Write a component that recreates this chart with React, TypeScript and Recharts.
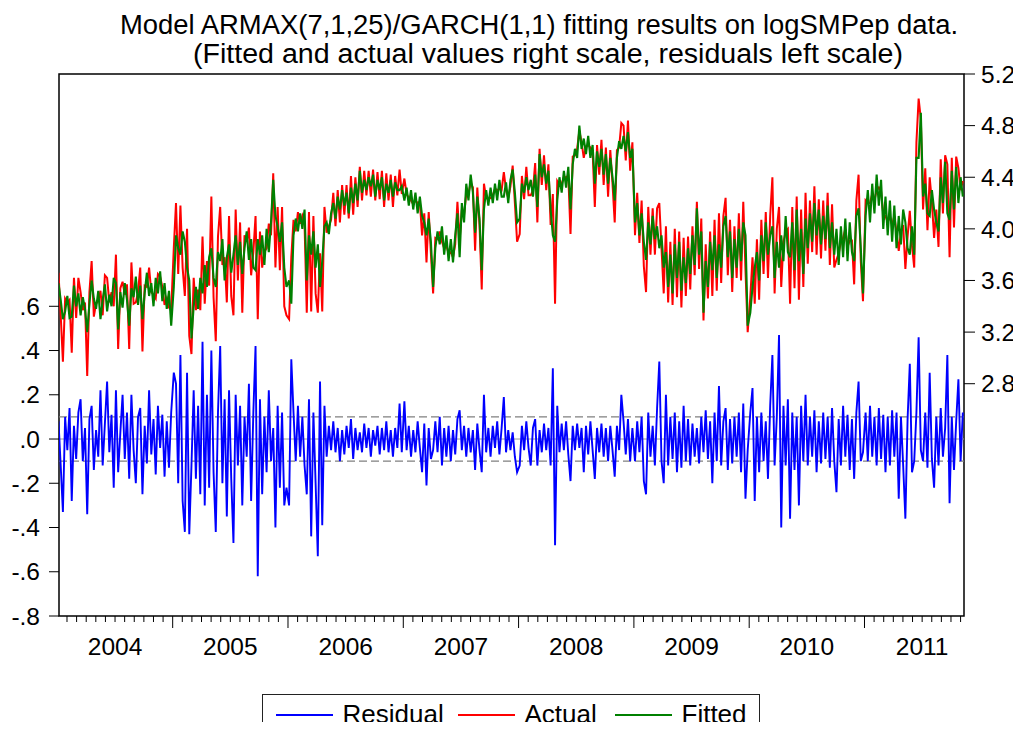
import React from "react";
import {
  ComposedChart,
  Line,
  XAxis,
  YAxis,
  ReferenceLine,
  ReferenceArea,
  Legend,
} from "recharts";

// weekly readings, one small array per calendar year
const YEARS = [2004, 2005, 2006, 2007, 2008, 2009, 2010, 2011];

const fitted2004 = [3.58,3.45,3.30,3.36,3.48,3.31,3.32,3.56,3.40,3.50,3.33,3.47,3.38,3.20,3.42,3.60,3.46,3.38,3.52,3.30,3.45,3.57,3.36,3.49,3.40,3.62,3.58,3.22,3.51,3.39,3.58,3.45,3.25,3.54,3.47,3.63,3.41,3.56,3.30,3.50,3.66,3.48,3.58,3.40,3.62,3.50,3.67,3.44,3.58,3.38,3.52,3.25];
const actual2004 = [3.66,3.33,2.97,3.46,3.43,3.45,3.04,3.62,3.31,3.62,3.51,3.37,3.43,2.86,3.51,3.75,3.32,3.42,3.44,3.52,3.33,3.64,3.62,3.43,3.51,3.40,3.80,3.07,3.54,3.59,3.49,3.57,3.07,3.74,3.42,3.43,3.51,3.70,3.05,3.56,3.55,3.70,3.51,3.49,3.46,3.65,3.63,3.55,3.41,3.46,3.39,3.37];
const resid2004 = [0.08,-0.12,-0.33,0.10,-0.05,0.14,-0.28,0.06,-0.09,0.12,0.18,-0.10,0.05,-0.34,0.09,0.15,-0.14,0.04,-0.08,0.22,-0.12,0.07,0.26,-0.06,0.11,-0.22,0.22,-0.15,0.03,0.20,-0.09,0.12,-0.18,0.20,-0.05,-0.20,0.10,0.14,-0.25,0.06,-0.11,0.22,-0.07,0.09,-0.16,0.15,-0.04,0.11,-0.17,0.08,-0.13,0.12];

const fitted2005 = [3.55,3.95,3.85,3.80,3.98,3.90,3.70,3.60,3.15,3.40,3.55,3.38,3.62,3.50,3.72,3.55,3.78,3.85,3.62,3.55,3.82,3.75,3.92,3.60,3.78,3.88,3.66,3.80,3.95,3.72,3.90,3.65,3.85,3.98,3.76,3.92,3.70,3.68,3.92,3.80,3.95,3.72,4.00,3.82,4.05,4.38,4.10,4.02,3.90,4.05,3.70,3.55];
const actual2005 = [3.85,4.20,3.65,4.18,3.70,3.48,4.00,3.17,3.03,3.62,3.37,3.53,3.37,3.94,3.42,3.75,3.56,4.25,3.47,3.13,3.94,4.17,3.72,3.78,3.43,4.10,3.48,3.33,4.15,3.60,4.05,3.35,3.95,3.90,4.01,3.64,3.82,4.10,3.30,3.98,3.70,3.82,3.85,4.04,3.95,4.43,3.70,4.17,3.68,4.17,3.40,3.33];
const resid2005 = [0.30,0.25,-0.20,0.38,-0.28,-0.42,0.30,-0.43,-0.12,0.22,-0.18,0.15,-0.25,0.44,-0.30,0.20,-0.22,0.40,-0.15,-0.42,0.12,0.42,-0.20,0.18,-0.35,0.22,-0.18,-0.47,0.20,-0.12,0.15,-0.30,0.10,-0.08,0.25,-0.28,0.12,0.42,-0.62,0.18,-0.25,0.10,-0.15,0.22,-0.10,0.05,-0.40,0.15,-0.22,0.12,-0.30,-0.22];

const fitted2006 = [3.60,3.42,3.95,4.08,3.98,4.12,4.00,4.15,3.60,3.95,3.80,3.98,3.70,3.88,3.55,3.75,4.02,4.05,3.96,4.12,4.20,4.08,4.25,4.15,4.30,4.18,4.28,4.12,4.32,4.20,4.35,4.22,4.45,4.28,4.38,4.30,4.40,4.33,4.42,4.25,4.38,4.30,4.40,4.22,4.35,4.28,4.38,4.25,4.36,4.30,4.30,4.33];
const actual2006 = [3.30,3.78,4.07,3.98,4.13,4.04,4.10,4.03,3.35,4.13,3.36,4.10,3.50,3.35,3.81,3.36,4.17,3.97,4.02,4.07,4.28,4.02,4.30,4.05,4.34,4.11,4.34,4.08,4.41,4.11,4.40,4.17,4.48,4.22,4.45,4.26,4.45,4.25,4.46,4.22,4.44,4.23,4.45,4.17,4.43,4.22,4.42,4.17,4.41,4.26,4.46,4.27];
const resid2006 = [-0.30,0.36,0.12,-0.10,0.15,-0.08,0.10,-0.12,-0.25,0.18,-0.44,0.12,-0.20,-0.53,0.26,-0.39,0.15,-0.08,0.06,-0.05,0.08,-0.06,0.05,-0.10,0.04,-0.07,0.06,-0.04,0.09,-0.09,0.05,-0.05,0.03,-0.06,0.07,-0.04,0.05,-0.08,0.04,-0.03,0.06,-0.07,0.05,-0.05,0.08,-0.06,0.04,-0.08,0.05,-0.04,0.16,-0.06];

const fitted2007 = [4.22,4.32,4.18,4.30,4.15,4.28,4.12,4.25,4.10,4.05,3.95,4.08,3.90,3.55,3.85,3.98,3.88,4.02,3.80,3.95,3.75,3.92,3.74,3.95,4.12,3.78,4.20,4.05,4.35,4.22,4.42,4.28,3.97,4.25,4.08,3.68,4.15,4.30,4.18,4.32,4.20,4.35,4.22,4.38,4.25,4.25,4.36,4.20,4.38,4.46,4.28,4.05];
const actual2007 = [4.39,4.27,4.24,4.22,4.19,4.22,4.20,4.21,3.95,4.12,3.74,4.13,3.81,3.50,3.93,3.92,3.98,3.90,3.85,3.87,3.81,3.82,3.78,3.88,4.21,3.91,4.15,4.11,4.27,4.27,4.36,4.32,3.83,4.32,4.03,3.53,4.35,4.24,4.23,4.24,4.26,4.31,4.30,4.31,4.30,4.44,4.30,4.24,4.33,4.49,4.20,3.90];
const resid2007 = [0.17,-0.05,0.06,-0.08,0.04,-0.06,0.08,-0.04,-0.15,0.07,-0.21,0.05,-0.09,-0.05,0.08,-0.06,0.10,-0.12,0.05,-0.08,0.06,-0.10,0.04,-0.07,0.09,0.13,-0.05,0.06,-0.08,0.05,-0.06,0.04,-0.14,0.07,-0.05,-0.15,0.20,-0.06,0.05,-0.08,0.06,-0.04,0.08,-0.07,0.05,0.19,-0.06,0.04,-0.05,0.03,-0.08,-0.15];

const fitted2008 = [4.08,4.35,4.28,4.40,4.30,4.38,4.25,4.42,4.17,4.58,4.40,4.50,4.35,4.45,4.15,3.95,3.90,4.22,4.40,4.28,4.45,4.32,4.48,4.15,4.50,4.62,4.55,4.80,4.62,4.70,4.58,4.72,4.55,4.65,4.35,4.60,4.48,4.62,4.42,4.58,4.35,4.55,4.40,4.22,4.55,4.68,4.62,4.72,4.60,4.75,4.55,4.62];
const actual2008 = [3.96,4.41,4.23,4.48,4.26,4.26,4.30,4.51,4.05,4.62,4.34,4.57,4.30,4.50,4.03,4.27,3.42,4.37,4.34,4.35,4.40,4.40,4.41,3.96,4.56,4.57,4.62,4.76,4.67,4.55,4.64,4.65,4.63,4.60,4.17,4.65,4.42,4.69,4.34,4.63,4.25,4.61,4.35,4.05,4.61,4.63,4.82,4.80,4.53,4.84,4.45,4.67];
const resid2008 = [-0.12,0.06,-0.05,0.08,-0.04,-0.12,0.05,0.09,-0.12,0.04,-0.06,0.07,-0.05,0.05,-0.12,0.32,-0.48,0.15,-0.06,0.07,-0.05,0.08,-0.07,-0.19,0.06,-0.05,0.07,-0.04,0.05,-0.15,0.06,-0.07,0.08,-0.05,-0.18,0.05,-0.06,0.07,-0.08,0.05,-0.10,0.06,-0.05,-0.17,0.06,-0.05,0.20,0.08,-0.07,0.09,-0.10,0.05];

const fitted2009 = [4.05,4.20,3.95,4.12,3.90,3.76,4.05,3.88,4.10,3.92,4.02,3.85,3.95,3.70,3.82,3.55,3.80,3.50,3.88,3.62,3.90,3.52,3.78,3.58,3.85,3.65,3.95,3.72,4.16,3.80,3.98,3.35,3.75,3.55,3.90,3.68,3.95,3.62,3.88,3.70,4.02,4.10,3.78,3.98,3.62,3.92,3.70,4.00,3.75,4.05,3.95,3.25];
const actual2009 = [3.95,4.28,3.89,4.22,3.71,3.51,4.17,3.80,4.16,3.80,4.16,4.20,3.85,3.50,4.02,3.43,3.90,3.41,4.00,3.47,3.98,3.39,3.93,3.48,3.94,3.53,4.02,3.64,4.21,3.69,4.08,3.29,3.88,3.46,3.98,3.48,4.07,3.52,4.12,3.58,4.10,4.24,3.64,4.07,3.51,4.02,3.62,4.12,3.60,4.21,3.68,3.20];
const resid2009 = [-0.10,0.08,-0.06,0.10,-0.19,-0.25,0.12,-0.08,0.06,-0.12,0.14,0.35,-0.10,-0.20,0.20,-0.12,0.10,-0.09,0.12,-0.15,0.08,-0.13,0.15,-0.10,0.09,-0.12,0.07,-0.08,0.05,-0.11,0.10,-0.06,0.13,-0.09,0.08,-0.20,0.12,-0.10,0.24,-0.12,0.08,0.14,-0.14,0.09,-0.11,0.10,-0.08,0.12,-0.15,0.16,-0.27,-0.05];

const fitted2010 = [3.35,3.55,3.70,3.82,3.60,3.95,3.75,4.05,3.80,3.95,4.02,3.62,3.90,3.70,3.95,3.75,4.10,3.82,3.78,4.05,3.68,4.15,3.75,4.00,3.65,4.08,3.85,4.12,3.90,4.20,3.95,4.15,3.88,4.10,3.92,4.18,3.85,4.05,3.80,4.00,3.72,4.02,3.78,4.08,3.75,4.05,3.82,3.75,4.10,4.16,3.85,3.50];
const actual2010 = [3.47,3.78,3.42,3.92,3.45,4.07,3.65,4.13,3.62,4.10,4.40,3.50,4.00,4.17,3.55,3.90,3.98,4.00,3.42,4.17,3.54,4.25,3.45,4.15,3.55,4.28,3.73,4.22,3.82,4.33,3.80,4.23,3.77,4.22,3.83,4.28,3.72,4.19,3.70,3.76,3.81,3.90,3.93,4.00,3.86,3.91,3.91,3.57,4.22,4.42,3.75,3.44];
const resid2010 = [0.12,0.23,-0.28,0.10,-0.15,0.12,-0.10,0.08,-0.18,0.15,0.38,-0.12,0.10,0.47,-0.40,0.15,-0.12,0.18,-0.36,0.12,-0.14,0.10,-0.30,0.15,-0.10,0.20,-0.12,0.10,-0.08,0.13,-0.15,0.08,-0.11,0.12,-0.09,0.10,-0.13,0.14,-0.10,-0.24,0.09,-0.12,0.15,-0.08,0.11,-0.14,0.09,-0.18,0.12,0.26,-0.10,-0.06];

const fitted2011 = [4.10,4.30,4.05,4.35,4.12,4.42,4.18,4.38,4.00,4.25,3.95,4.22,3.90,4.18,3.85,4.10,3.88,4.15,4.05,3.85,3.80,4.02,3.80,4.55,4.55,4.90,4.25,4.35,4.12,4.10,4.30,4.15,4.05,3.98,4.40,4.20,4.52,4.12,4.07,4.45,4.15,4.48,4.20,4.40,4.25];
const actual2011 = [4.22,4.20,4.20,4.27,4.22,4.30,4.32,4.29,4.11,4.10,4.05,4.10,4.03,4.10,3.97,3.83,3.98,4.03,3.69,3.94,4.14,3.87,3.70,4.67,5.01,4.85,4.15,4.47,3.99,4.40,4.21,3.93,4.15,3.86,4.54,4.12,4.57,4.50,3.78,4.55,4.01,4.56,4.47,4.30,4.37];
const resid2011 = [0.12,-0.10,0.15,-0.08,0.10,-0.12,0.14,-0.09,0.11,-0.15,0.10,-0.12,0.13,-0.08,0.12,-0.27,0.10,-0.12,-0.36,0.09,0.34,-0.15,-0.10,0.12,0.46,-0.05,-0.10,0.12,-0.13,0.30,-0.09,-0.22,0.10,-0.12,0.14,-0.08,0.05,0.38,-0.29,0.10,-0.14,0.08,0.27,-0.10,0.12];

const fittedByYear = [fitted2004, fitted2005, fitted2006, fitted2007, fitted2008, fitted2009, fitted2010, fitted2011];
const actualByYear = [actual2004, actual2005, actual2006, actual2007, actual2008, actual2009, actual2010, actual2011];
const residByYear = [resid2004, resid2005, resid2006, resid2007, resid2008, resid2009, resid2010, resid2011];

const leftTicks = [-0.8, -0.6, -0.4, -0.2, 0, 0.2, 0.4, 0.6];
const rightTicks = [2.8, 3.2, 3.6, 4.0, 4.4, 4.8, 5.2];

const X_MIN = 2004.014;
const X_MAX = 2011.863;

const rows = YEARS.flatMap((yr, i) =>
  fittedByYear[i].map((f, k) => ({
    t: yr + (k + 0.5) / 52.18,
    residual: residByYear[i][k],
    actual: actualByYear[i][k],
    fitted: f,
  }))
);

// month boundaries for the x axis
const monthTicks: number[] = [];
YEARS.forEach((yr) => {
  for (let m = 0; m < 12; m++) {
    const v = yr + m / 12;
    if (v > X_MIN && v < X_MAX) monthTicks.push(v);
  }
});

const FONT = "'Liberation Sans', Arial, Helvetica, sans-serif";

function MonthTick(props: any) {
  const { x, y, payload } = props;
  const v = payload.value;
  const yr = Math.floor(v + 1e-6);
  const m = Math.round((v - yr) * 12);
  return (
    <g>
      <line x1={x} y1={y} x2={x} y2={y + (m === 0 ? 12 : 6)} stroke="#000" strokeWidth={1} />
      {m === 6 && (
        <text x={x} y={y + 39} textAnchor="middle" fontSize={24.5} fontFamily={FONT} fill="#000">
          {yr}
        </text>
      )}
    </g>
  );
}

const fmtLeft = (v: number) => v.toFixed(1).replace("0.", ".");
const fmtRight = (v: number) => v.toFixed(1);

function LegendBox() {
  const item = (left: number, color: string) => (
    <div style={{ position: "absolute", left, top: 18.5, width: 57, height: 2, background: color }} />
  );
  const label = (left: number, text: string) => (
    <div style={{ position: "absolute", left, top: 6, fontSize: 26, lineHeight: "26px", fontFamily: FONT, color: "#000", whiteSpace: "nowrap" }}>
      {text}
    </div>
  );
  return (
    <div style={{ position: "relative", width: 498, height: 60, border: "1.5px solid #222", boxSizing: "border-box", background: "#fff" }}>
      {item(12.5, "#0000ff")}
      {label(79.5, "Residual")}
      {item(194.5, "#ff0000")}
      {label(261.5, "Actual")}
      {item(351.5, "#008000")}
      {label(418.5, "Fitted")}
    </div>
  );
}

export default function App() {
  return (
    <div style={{ position: "relative", width: 1013, height: 722, overflow: "hidden", marginBottom: -8, background: "#fff" }}>
      <svg width={1013} height={70} style={{ position: "absolute", left: 0, top: 0 }}>
        <text x={112} y={26} fontSize={27} fontFamily={FONT} fill="#000" textLength={838} lengthAdjust="spacingAndGlyphs">
          Model ARMAX(7,1,25)/GARCH(1,1) fitting results on logSMPep data.
        </text>
        <text x={185} y={55} fontSize={27} fontFamily={FONT} fill="#000" textLength={710} lengthAdjust="spacingAndGlyphs">
          (Fitted and actual values right scale, residuals left scale)
        </text>
      </svg>
      <ComposedChart
        width={1013}
        height={722}
        data={rows}
        margin={{ top: 66, right: 0, left: 0, bottom: 64 }}
        style={{ position: "absolute", left: 0, top: 0 }}
      >
        <XAxis
          dataKey="t"
          type="number"
          domain={[X_MIN, X_MAX]}
          allowDataOverflow
          ticks={monthTicks}
          interval={0}
          tick={<MonthTick />}
          tickLine={false}
          tickSize={0}
          tickMargin={0}
          axisLine={false}
          height={50}
        />
        <YAxis
          yAxisId="res"
          orientation="left"
          width={51}
          domain={[-0.8, 1.65]}
          ticks={leftTicks}
          interval={0}
          allowDataOverflow
          tickFormatter={fmtLeft}
          tickSize={10}
          tickMargin={9}
          axisLine={false}
          tickLine={{ stroke: "#000" }}
          tick={{ fontSize: 24.5, fill: "#000", fontFamily: FONT }}
        />
        <YAxis
          yAxisId="lvl"
          orientation="right"
          width={57}
          domain={[1.0, 5.2]}
          ticks={rightTicks}
          interval={0}
          allowDataOverflow
          tickFormatter={fmtRight}
          tickSize={11}
          tickMargin={6}
          axisLine={false}
          tickLine={{ stroke: "#000" }}
          tick={{ fontSize: 24.5, fill: "#000", fontFamily: FONT, textAnchor: "start" }}
        />
        <ReferenceLine yAxisId="res" y={0} stroke="#999" strokeWidth={1} />
        <ReferenceLine yAxisId="res" y={0.1} stroke="#808080" strokeDasharray="8 4" strokeWidth={1.2} />
        <ReferenceLine yAxisId="res" y={-0.1} stroke="#808080" strokeDasharray="8 4" strokeWidth={1.2} />
        <Line
          yAxisId="res"
          dataKey="residual"
          name="Residual"
          stroke="#0000ff"
          strokeWidth={1.9}
          dot={false}
          activeDot={false}
          type="linear"
          isAnimationActive={false}
        />
        <Line
          yAxisId="lvl"
          dataKey="actual"
          name="Actual"
          stroke="#ff0000"
          strokeWidth={2}
          dot={false}
          activeDot={false}
          type="linear"
          isAnimationActive={false}
        />
        <Line
          yAxisId="lvl"
          dataKey="fitted"
          name="Fitted"
          stroke="#008000"
          strokeWidth={2.1}
          dot={false}
          activeDot={false}
          type="linear"
          isAnimationActive={false}
        />
        <ReferenceArea
          yAxisId="res"
          x1={X_MIN}
          x2={X_MAX}
          y1={-0.8}
          y2={1.65}
          fill="none"
          fillOpacity={0}
          stroke="#000"
          strokeWidth={1.5}
          ifOverflow="visible"
        />
        <Legend
          layout="horizontal"
          verticalAlign="middle"
          align="center"
          wrapperStyle={{ top: 686, left: 254, width: 498, height: 60 }}
          content={() => <LegendBox />}
        />
      </ComposedChart>
    </div>
  );
}
